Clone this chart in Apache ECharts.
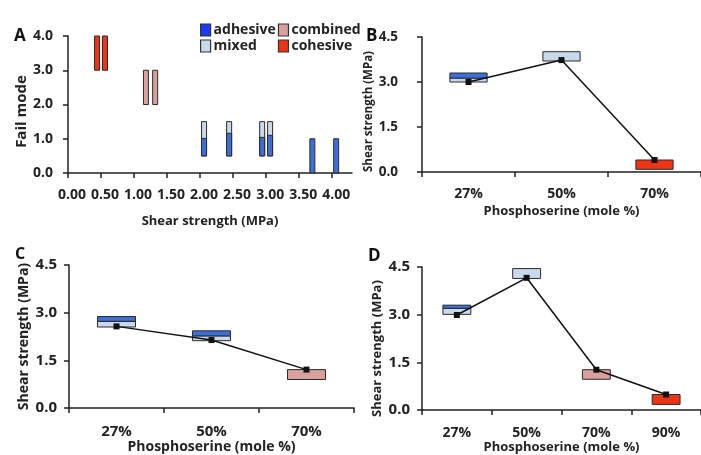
<!DOCTYPE html>
<html><head><meta charset="utf-8">
<script src="https://cdn.jsdelivr.net/npm/echarts@6/dist/echarts.min.js"></script>
<style>html,body{margin:0;padding:0;background:#fff}#c{width:701px;height:455px}</style>
</head><body><div id="c"></div>
<script>
// ---------- Panel A (fail mode vs shear strength) : [x, yLow, yHigh]
const aTicks = [0, 0.5, 1, 1.5, 2, 2.5, 3, 3.5, 4];
const aCohesive = [[0.44, 3, 4], [0.56, 3, 4]];
const aCombined = [[1.18, 2, 3], [1.32, 2, 3]];
const aMixed = [[2.06, 0.5, 1.5], [2.44, 0.5, 1.5], [2.94, 0.5, 1.5], [3.06, 0.5, 1.5]];
const aAdhesive = [[2.06, 0.5, 1.01], [2.44, 0.5, 1.16], [2.94, 0.5, 1.04], [3.06, 0.5, 1.10], [3.70, 0, 1], [4.06, 0, 1]];

// ---------- Panel B : boxes [categoryIndex, low, high]
const bCats = ['27%', '50%', '70%'];
const bLine = [3.0, 3.73, 0.40];
const bAdhesive = [[0, 3.13, 3.30]];
const bMixed = [[0, 3.0, 3.13], [1, 3.70, 4.01]];
const bCohesive = [[2, 0.09, 0.40]];

// ---------- Panel C
const cCats = ['27%', '50%', '70%'];
const cLine = [2.57, 2.14, 1.21];
const cAdhesive = [[0, 2.73, 2.88], [1, 2.27, 2.43]];
const cMixed = [[0, 2.55, 2.73], [1, 2.12, 2.27]];
const cCombined = [[2, 0.90, 1.21]];

// ---------- Panel D
const dCats = ['27%', '50%', '70%', '90%'];
const dLine = [2.99, 4.16, 1.27, 0.49];
const dAdhesive = [[0, 3.20, 3.30]];
const dMixed = [[0, 3.01, 3.20], [1, 4.14, 4.45]];
const dCombined = [[2, 0.97, 1.27]];
const dCohesive = [[3, 0.18, 0.49]];

const COLORS = {adhesive: '#3c6fdc', mixed: '#c9d9ec', combined: '#d9a19d', cohesive: '#ee3414'};
const FONT = 'Open Sans';
const axisCol = '#222';

function barRender(params, api) {
  const x = api.value(0);
  const p1 = api.coord([x, api.value(2)]);
  const p0 = api.coord([x, api.value(1)]);
  const w = 5;
  return {type: 'rect', shape: {x: p1[0] - w / 2, y: p1[1], width: w, height: p0[1] - p1[1]},
    style: {fill: api.visual('color'), stroke: '#2a2a2a', lineWidth: 1}};
}
function boxRender(params, api) {
  const c = api.value(0);
  const p1 = api.coord([c, api.value(2)]);
  const p0 = api.coord([c, api.value(1)]);
  const w = api.size([1, 0])[0] * 0.4;
  return {type: 'rect', shape: {x: p1[0] - w / 2, y: p1[1], width: w, height: p0[1] - p1[1]},
    style: {fill: api.visual('color'), stroke: '#2a2a2a', lineWidth: 1}};
}

const txt = (size) => ({color: '#222', fontFamily: FONT, fontWeight: 'bold', fontSize: size});
const axisLine = {show: true, lineStyle: {color: axisCol, width: 1.5}};
const axisTick = {show: true, length: 5, lineStyle: {color: axisCol, width: 1.5}};

// shift: positive moves the rotated title down on screen, negative moves it up
function yName(size, shift) {
  const p = shift >= 0 ? [0, 2 * shift, 0, 0] : [0, 0, 0, -2 * shift];
  return Object.assign(txt(size), {padding: p});
}
function shearY(grid, labelSize, margin, nameSize, nameGap, shift) {
  return {type: 'value', gridIndex: grid, min: 0, max: 4.5, interval: 1.5,
    name: 'Shear strength (MPa)', nameLocation: 'middle', nameGap: nameGap, nameTextStyle: yName(nameSize, shift),
    axisLine: axisLine, axisTick: axisTick, splitLine: {show: false},
    axisLabel: Object.assign({margin: margin, formatter: v => v.toFixed(1)}, txt(labelSize))};
}
function catX(grid, cats, labelSize, margin, nameSize, gap) {
  return {type: 'category', gridIndex: grid, data: cats,
    name: 'Phosphoserine (mole %)', nameLocation: 'middle', nameGap: gap, nameTextStyle: txt(nameSize),
    axisLine: axisLine, axisTick: axisTick, splitLine: {show: false},
    axisLabel: Object.assign({margin: margin}, txt(labelSize))};
}
function boxSeries(name, x, data) {
  return {type: 'custom', name: name, xAxisIndex: x, yAxisIndex: x, renderItem: boxRender,
    itemStyle: {color: COLORS[name], borderColor: '#2a2a2a', borderWidth: 1},
    encode: {x: 0, y: [1, 2]}, data: data, z: 2};
}
function barSeries(name, data) {
  return {type: 'custom', name: name, xAxisIndex: 0, yAxisIndex: 0, renderItem: barRender,
    itemStyle: {color: COLORS[name], borderColor: '#2a2a2a', borderWidth: 1},
    encode: {x: 0, y: [1, 2]}, data: data, z: 2};
}
function lineSeries(x, data) {
  return {type: 'line', xAxisIndex: x, yAxisIndex: x, data: data, symbol: 'rect', symbolSize: 6,
    lineStyle: {color: '#111', width: 1.5}, itemStyle: {color: '#111'}, z: 5, silent: true};
}

const chart = echarts.init(document.getElementById('c'));
const legendItem = n => ({name: n, itemStyle: {color: n === 'adhesive' ? '#1a3cf2' : COLORS[n], borderColor: '#333', borderWidth: 1.2}});
const legTxt = Object.assign(txt(14), {padding: [0, 0, 0, -2]});
chart.setOption({
  animation: false,
  backgroundColor: '#fff',
  textStyle: {fontFamily: FONT},
  grid: [
    {left: 68, top: 36, width: 284, height: 137},
    {left: 422, top: 37, right: 0, height: 135},
    {left: 69, top: 265, width: 285, height: 146},
    {left: 422, top: 267, right: -8, height: 144}
  ],
  legend: [
    {left: 195, top: 18, itemWidth: 10, itemHeight: 12, itemGap: 2, icon: 'rect',
      textStyle: legTxt, data: ['adhesive', 'combined'].map(legendItem)},
    {left: 195, top: 34, itemWidth: 10, itemHeight: 12, itemGap: 21, icon: 'rect',
      textStyle: legTxt, data: ['mixed', 'cohesive'].map(legendItem)}
  ],
  xAxis: [
    {type: 'value', gridIndex: 0, min: 0, max: 4.3,
      name: 'Shear strength (MPa)', nameLocation: 'middle', nameGap: 42, nameTextStyle: txt(13),
      axisLine: axisLine, splitLine: {show: false},
      axisTick: Object.assign({customValues: aTicks}, axisTick),
      axisLabel: Object.assign({margin: 15, padding: [0, 0, 0, 8], customValues: aTicks, formatter: v => v.toFixed(2)}, txt(14))},
    catX(1, bCats, 14, 15, 13, 33),
    catX(2, cCats, 15, 16, 14, 29),
    catX(3, dCats, 14, 16, 13, 29)
  ],
  yAxis: [
    {type: 'value', gridIndex: 0, min: 0, max: 4, interval: 1,
      name: 'Fail mode', nameLocation: 'middle', nameGap: 38, nameTextStyle: yName(15, 7),
      axisLine: axisLine, axisTick: axisTick, splitLine: {show: false},
      axisLabel: Object.assign({margin: 15, formatter: v => v.toFixed(1)}, txt(14))},
    shearY(1, 13.5, 24, 11.5, 42, 7),
    shearY(2, 15, 12, 14, 38, 0),
    shearY(3, 15, 12, 13, 38, 10)
  ],
  series: [
    barSeries('mixed', aMixed),
    barSeries('adhesive', aAdhesive),
    barSeries('combined', aCombined),
    barSeries('cohesive', aCohesive),
    boxSeries('mixed', 1, bMixed), boxSeries('adhesive', 1, bAdhesive), boxSeries('cohesive', 1, bCohesive),
    lineSeries(1, bLine),
    boxSeries('mixed', 2, cMixed), boxSeries('adhesive', 2, cAdhesive), boxSeries('combined', 2, cCombined),
    lineSeries(2, cLine),
    boxSeries('mixed', 3, dMixed), boxSeries('adhesive', 3, dAdhesive), boxSeries('combined', 3, dCombined),
    boxSeries('cohesive', 3, dCohesive),
    lineSeries(3, dLine)
  ],
  graphic: [
    {type: 'text', left: 14, top: 28, style: {text: 'A', font: 'bold 17px "Open Sans"', fill: '#111'}},
    {type: 'text', left: 366, top: 28, style: {text: 'B', font: 'bold 17px "Open Sans"', fill: '#111'}},
    {type: 'text', left: 15, top: 246, style: {text: 'C', font: 'bold 16px "Open Sans"', fill: '#111'}},
    {type: 'text', left: 368, top: 248, style: {text: 'D', font: 'bold 17px "Open Sans"', fill: '#111'}}
  ]
});
</script>
</body></html>
